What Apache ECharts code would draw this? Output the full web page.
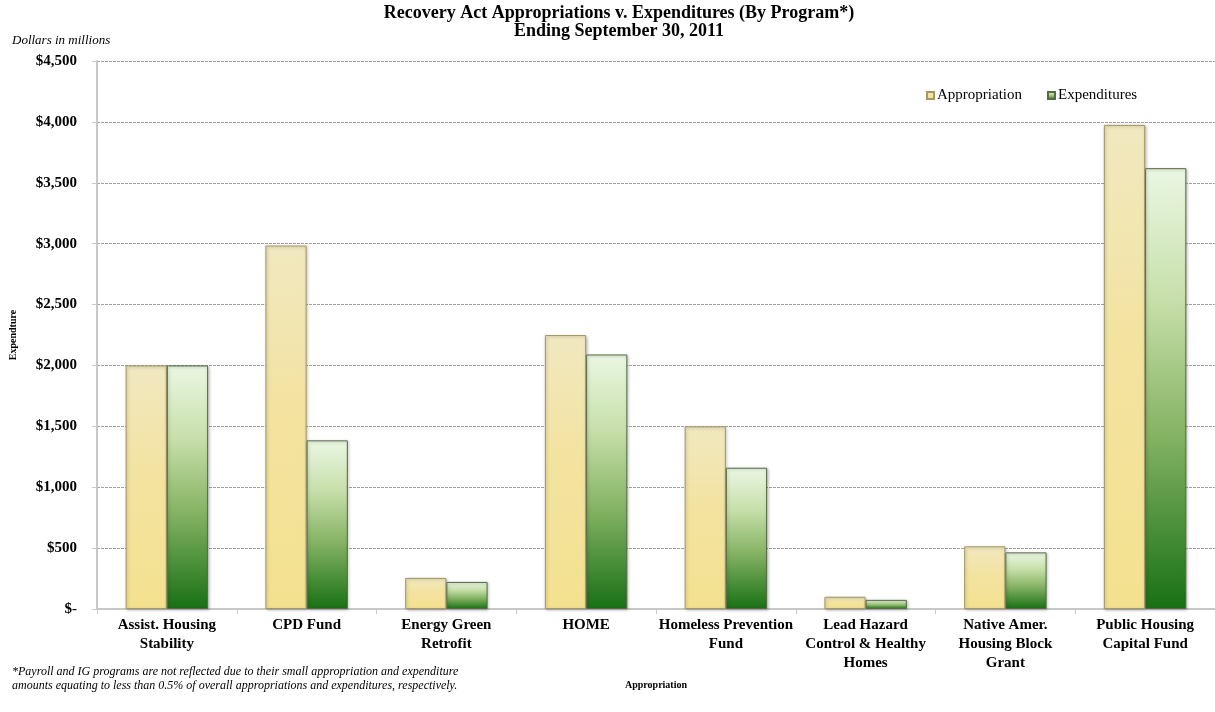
<!DOCTYPE html>
<html>
<head>
<meta charset="utf-8">
<title>Recovery Act Appropriations v. Expenditures</title>
<script src="https://cdn.jsdelivr.net/npm/echarts@6/dist/echarts.min.js"></script>
<style>
  html, body { margin: 0; padding: 0; background: #ffffff; }
  #chart { width: 1215px; height: 712px; }
</style>
</head>
<body>
<div id="chart"></div>
<script>
// Programs along the category axis
const programs = [
  'Assist. Housing\nStability',
  'CPD Fund',
  'Energy Green\nRetrofit',
  'HOME',
  'Homeless Prevention\nFund',
  'Lead Hazard\nControl & Healthy\nHomes',
  'Native Amer.\nHousing Block\nGrant',
  'Public Housing\nCapital Fund'
];

// Dollars in millions
const appropriation = [2000, 2985, 255, 2250, 1500, 100, 515, 3975];
const expenditures  = [2000, 1385, 222, 2090, 1160, 75, 465, 3620];

// Value axis tick labels, one per 500 step
const yTickLabels = ['$-', '$500', '$1,000', '$1,500', '$2,000', '$2,500', '$3,000', '$3,500', '$4,000', '$4,500'];

const serif = '"Liberation Serif", "Times New Roman", serif';

const chart = echarts.init(document.getElementById('chart'), null, { renderer: 'canvas' });

const appropFill = new echarts.graphic.LinearGradient(0, 0, 0, 1, [
  { offset: 0, color: '#f1e8c0' },
  { offset: 0.45, color: '#f3e3a0' },
  { offset: 1, color: '#f4e18f' }
]);
const expendFill = new echarts.graphic.LinearGradient(0, 0, 0, 1, [
  { offset: 0, color: '#ebf7e3' },
  { offset: 0.3, color: '#c7dfaa' },
  { offset: 0.6, color: '#86b464' },
  { offset: 1, color: '#187014' }
]);

chart.setOption({
  backgroundColor: '#ffffff',
  animation: false,
  textStyle: { fontFamily: serif },
  graphic: [
    {
      type: 'text', x: 619, y: 4,
      style: {
        text: 'Recovery Act Appropriations v. Expenditures (By Program*)\nEnding September 30, 2011',
        align: 'center', verticalAlign: 'top',
        font: 'bold 18px ' + serif, lineHeight: 18, fill: '#000'
      }
    },
    {
      type: 'text', x: 12, y: 34,
      style: { text: 'Dollars in millions', font: 'italic 13px ' + serif, fill: '#000' }
    },
    {
      type: 'text', x: 12, y: 665,
      style: {
        text: '*Payroll and IG programs are not reflected due to their small appropriation and expenditure\namounts equating to less than 0.5% of overall appropriations and expenditures, respectively.',
        font: 'italic 12px ' + serif, lineHeight: 14, fill: '#000'
      }
    }
  ],
  legend: {
    left: 921, top: 83,
    itemWidth: 7, itemHeight: 7, itemGap: 25,
    icon: 'rect',
    textStyle: { fontFamily: serif, fontSize: 15, color: '#000', padding: [0, 0, 0, -2] },
    data: ['Appropriation', 'Expenditures']
  },
  grid: { left: 95, right: 0, top: 61, bottom: 103 },
  xAxis: {
    type: 'category',
    data: programs,
    name: 'Appropriation',
    nameLocation: 'middle',
    nameGap: 71,
    nameTextStyle: { fontFamily: serif, fontSize: 10, fontWeight: 'bold', color: '#000' },
    axisLine: { show: true, lineStyle: { color: '#c8c8c8', width: 2 } },
    axisTick: { show: true, length: 5, lineStyle: { color: '#c8c8c8' } },
    axisLabel: {
      interval: 0, margin: 7,
      fontFamily: serif, fontSize: 15, fontWeight: 'bold', color: '#000', lineHeight: 19
    }
  },
  yAxis: {
    type: 'value',
    min: 0, max: 4500, interval: 500,
    name: 'Expendture',
    nameLocation: 'middle',
    nameGap: 79,
    nameRotate: 90,
    nameTextStyle: { fontFamily: serif, fontSize: 10, fontWeight: 'bold', color: '#000' },
    axisLine: { show: true, lineStyle: { color: '#c8c8c8', width: 2 } },
    axisTick: { show: true, length: 5, lineStyle: { color: '#c8c8c8' } },
    axisLabel: {
      margin: 20,
      fontFamily: serif, fontSize: 15, fontWeight: 'bold', color: '#000',
      formatter: v => yTickLabels[Math.round(v / 500)]
    },
    splitLine: { show: true, lineStyle: { color: '#a0a0a0', type: [3, 1], width: 1 } }
  },
  series: [
    {
      name: 'Appropriation',
      type: 'bar',
      data: appropriation,
      barGap: '0%',
      barCategoryGap: '41%',
      itemStyle: {
        color: appropFill,
        borderColor: '#a39866', borderWidth: 1,
        shadowColor: 'rgba(0,0,0,0.25)', shadowBlur: 3, shadowOffsetX: 1, shadowOffsetY: 1
      }
    },
    {
      name: 'Expenditures',
      type: 'bar',
      data: expenditures,
      barGap: '0%',
      barCategoryGap: '41%',
      itemStyle: {
        color: expendFill,
        borderColor: '#556b45', borderWidth: 1,
        shadowColor: 'rgba(0,0,0,0.25)', shadowBlur: 3, shadowOffsetX: 1, shadowOffsetY: 1
      }
    }
  ]
});
</script>
</body>
</html>
